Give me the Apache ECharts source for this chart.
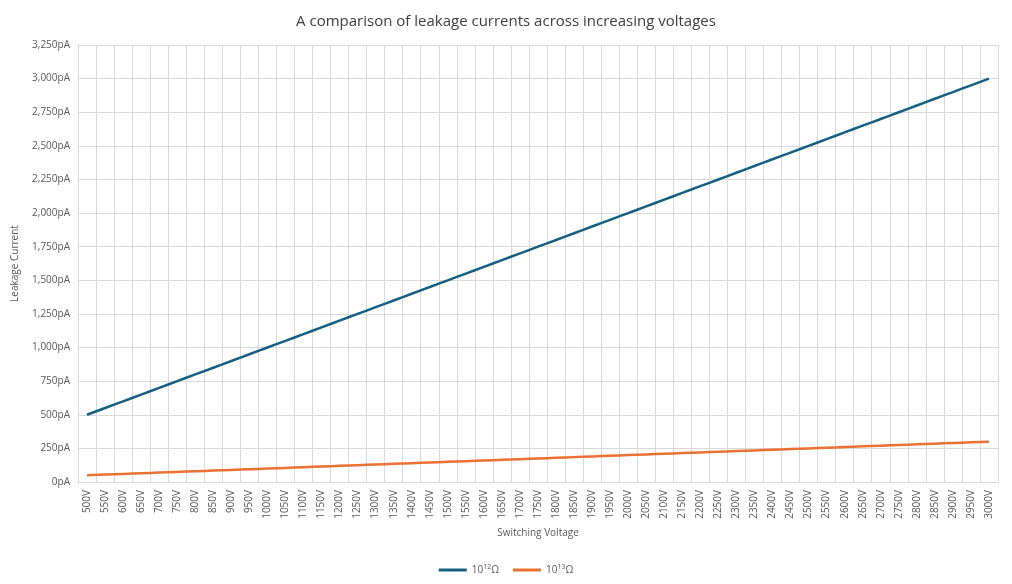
<!DOCTYPE html>
<html><head><meta charset="utf-8">
<script src="https://cdn.jsdelivr.net/npm/echarts@6/dist/echarts.min.js"></script>
<style>html,body{margin:0;padding:0;background:#fff}#c{width:1012px;height:584px}</style>
</head><body><div id="c"></div>
<script>
const categories = ["500V","550V","600V","650V","700V","750V","800V","850V","900V","950V","1000V","1050V","1100V","1150V","1200V","1250V","1300V","1350V","1400V","1450V","1500V","1550V","1600V","1650V","1700V","1750V","1800V","1850V","1900V","1950V","2000V","2050V","2100V","2150V","2200V","2250V","2300V","2350V","2400V","2450V","2500V","2550V","2600V","2650V","2700V","2750V","2800V","2850V","2900V","2950V","3000V"];
const series12 = [500,550,600,650,700,750,800,850,900,950,1000,1050,1100,1150,1200,1250,1300,1350,1400,1450,1500,1550,1600,1650,1700,1750,1800,1850,1900,1950,2000,2050,2100,2150,2200,2250,2300,2350,2400,2450,2500,2550,2600,2650,2700,2750,2800,2850,2900,2950,3000];
const series13 = [50,55,60,65,70,75,80,85,90,95,100,105,110,115,120,125,130,135,140,145,150,155,160,165,170,175,180,185,190,195,200,205,210,215,220,225,230,235,240,245,250,255,260,265,270,275,280,285,290,295,300];
const names = ["10{s|12}Ω","10{s|13}Ω"];
const chart = echarts.init(document.getElementById('c'));
const ff = 'Open Sans, Liberation Sans, sans-serif';
chart.setOption({
  animation:false,
  textStyle:{fontFamily:ff},
  title:{text:'A comparison of leakage currents across increasing voltages',left:'center',top:9,textStyle:{fontSize:15,fontWeight:'normal',color:'#404040',fontFamily:ff}},
  legend:{bottom:4,left:'center',itemWidth:28,itemHeight:3,icon:'rect',itemGap:14,
    data:['s12','s13'],
    formatter:n=>n==='s12'?names[0]:names[1],
    textStyle:{fontSize:10,color:'#595959',rich:{s:{fontSize:7,verticalAlign:'top',padding:[0,0,6,0],color:'#595959'}}}},
  grid:{left:78,right:14,top:45,bottom:102},
  xAxis:{type:'category',data:categories,boundaryGap:true,name:'Switching Voltage',nameLocation:'middle',nameGap:46,
    nameTextStyle:{fontSize:10,color:'#595959'},
    axisLabel:{rotate:90,fontSize:10,color:'#595959',interval:0},
    axisTick:{show:false},axisLine:{lineStyle:{color:'#d9d9d9'}},
    splitLine:{show:true,interval:0,lineStyle:{color:'#d9d9d9'}}},
  yAxis:{type:'value',min:0,max:3250,interval:250,name:'Leakage Current',nameLocation:'middle',nameGap:58,
    nameTextStyle:{fontSize:10,color:'#595959'},
    axisLabel:{formatter:'{value}pA',fontSize:10,color:'#595959'},
    splitLine:{lineStyle:{color:'#d9d9d9'}}},
  series:[
    {name:'s12',type:'line',data:series12,smooth:true,showSymbol:false,lineStyle:{width:2.5,color:'#156082'},itemStyle:{color:'#156082'}},
    {name:'s13',type:'line',data:series13,smooth:true,showSymbol:false,lineStyle:{width:2.5,color:'#e97132'},itemStyle:{color:'#e97132'}}
  ]
});
</script></body></html>
